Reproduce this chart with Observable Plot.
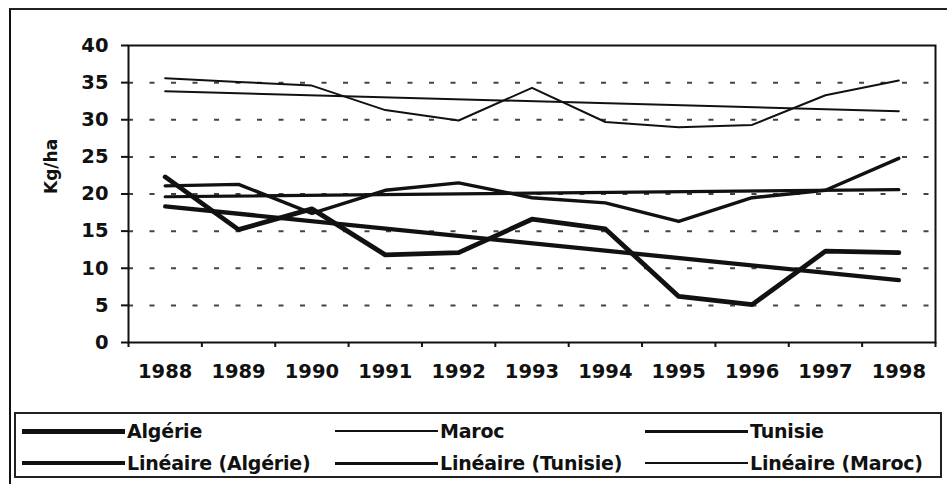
<!DOCTYPE html>
<html>
<head>
<meta charset="utf-8">
<script src="https://cdn.jsdelivr.net/npm/d3@7"></script>
<script src="https://cdn.jsdelivr.net/npm/@observablehq/plot@0.6"></script>
<style>
  html, body { margin: 0; padding: 0; background: #fff; }
  body { width: 947px; height: 484px; overflow: hidden; position: relative; font-family: "DejaVu Sans", sans-serif; color: #111; }
  #chart { position: absolute; left: 0; top: 0; }
  #outer { position: absolute; left: 9px; top: 8px; width: 980px; height: 520px; border-left: 2px solid #111; border-top: 2px solid #222; pointer-events: none; }
  #legend { position: absolute; left: 14px; top: 412px; width: 928px; height: 66px; border: 2px solid #222; box-sizing: border-box;
            display: grid; grid-template-columns: 313px 310px auto; grid-auto-rows: 32px; align-items: center; padding: 1px 0 0 6px; }
  .item { display: flex; align-items: center; white-space: nowrap; }
  .sw { width: 103px; background: #111; margin-right: 2px; }
  .lbl { font-size: 19px; font-weight: bold; letter-spacing: -0.2px; }
</style>
</head>
<body>
<div id="chart"></div>
<div id="outer"></div>
<div id="legend"></div>
<script>
// ---- data ----
const years   = [1988, 1989, 1990, 1991, 1992, 1993, 1994, 1995, 1996, 1997, 1998];
const algerie = [22.3, 15.2, 18.0, 11.8, 12.1, 16.6, 15.3, 6.2, 5.1, 12.3, 12.1];
const maroc   = [35.6, 35.1, 34.6, 31.3, 29.9, 34.3, 29.7, 29.0, 29.3, 33.3, 35.3];
const tunisie = [21.1, 21.3, 17.4, 20.5, 21.5, 19.5, 18.8, 16.3, 19.5, 20.5, 24.8];
const yTicks  = [0, 5, 10, 15, 20, 25, 30, 35, 40];
const yLabel  = "Kg/ha";
const legendNames = ["Algérie", "Maroc", "Tunisie", "Linéaire (Algérie)", "Linéaire (Tunisie)", "Linéaire (Maroc)"];

// ---- styles ----
const ink = "#111";
const lineW  = {"Algérie": 4.8, "Maroc": 2, "Tunisie": 3.4};
const trendW = {"Algérie": 4.3, "Maroc": 2, "Tunisie": 3.2};
const legendW = {"Algérie": 5, "Maroc": 2, "Tunisie": 3,
                 "Linéaire (Algérie)": 4, "Linéaire (Tunisie)": 3, "Linéaire (Maroc)": 2};

const seriesList = [["Algérie", algerie], ["Maroc", maroc], ["Tunisie", tunisie]];
const rows = name => years.map((yr, i) => ({year: yr, value: seriesList.find(s => s[0] === name)[1][i]}));
const boundaries = years.map(y => y - 0.5).concat([years[years.length - 1] + 0.5]);
const gridTicks = yTicks.filter(t => t > 0 && t < 40);

const marks = [
  Plot.ruleY(gridTicks, {stroke: "#444", strokeWidth: 2, strokeDasharray: "5,16.5"}),
  Plot.frame({stroke: ink, strokeWidth: 2}),
  Plot.axisY({ticks: yTicks, tickSize: 7, tickPadding: 13, fontSize: 19.5, fontWeight: "bold", strokeWidth: 2, label: null, tickFormat: d3.format("d")}),
  Plot.axisX({ticks: boundaries, tickSize: 5, strokeWidth: 2, tickFormat: () => "", label: null}),
  Plot.axisX({ticks: years, tickSize: 0, tickPadding: 22, fontSize: 19.5, fontWeight: "bold", tickFormat: d => String(d), label: null}),
  Plot.text([yLabel], {text: d => d, frameAnchor: "left", rotate: -90, dx: -77, fontSize: 17, fontWeight: "bold", fill: ink})
];
for (const [name] of seriesList) {
  marks.push(Plot.line(rows(name), {x: "year", y: "value", stroke: ink, strokeWidth: lineW[name], strokeLinejoin: "round", strokeLinecap: "round"}));
  marks.push(Plot.linearRegressionY(rows(name), {x: "year", y: "value", ci: 0, stroke: ink, strokeWidth: trendW[name], strokeLinecap: "round"}));
}

const chart = Plot.plot({
  width: 947,
  height: 400,
  marginLeft: 128,
  marginRight: 12,
  marginTop: 45,
  marginBottom: 58,
  style: {fontFamily: "DejaVu Sans", color: ink, background: "transparent"},
  x: {domain: [years[0] - 0.5, years[years.length - 1] + 0.5], label: null},
  y: {domain: [0, 40], label: null},
  marks
});
document.getElementById("chart").append(chart);

const legend = document.getElementById("legend");
for (const name of legendNames) {
  const item = document.createElement("div");
  item.className = "item";
  const sw = document.createElement("div");
  sw.className = "sw";
  sw.style.height = legendW[name] + "px";
  const lbl = document.createElement("span");
  lbl.className = "lbl";
  lbl.textContent = name;
  item.append(sw, lbl);
  legend.append(item);
}
</script>
</body>
</html>
